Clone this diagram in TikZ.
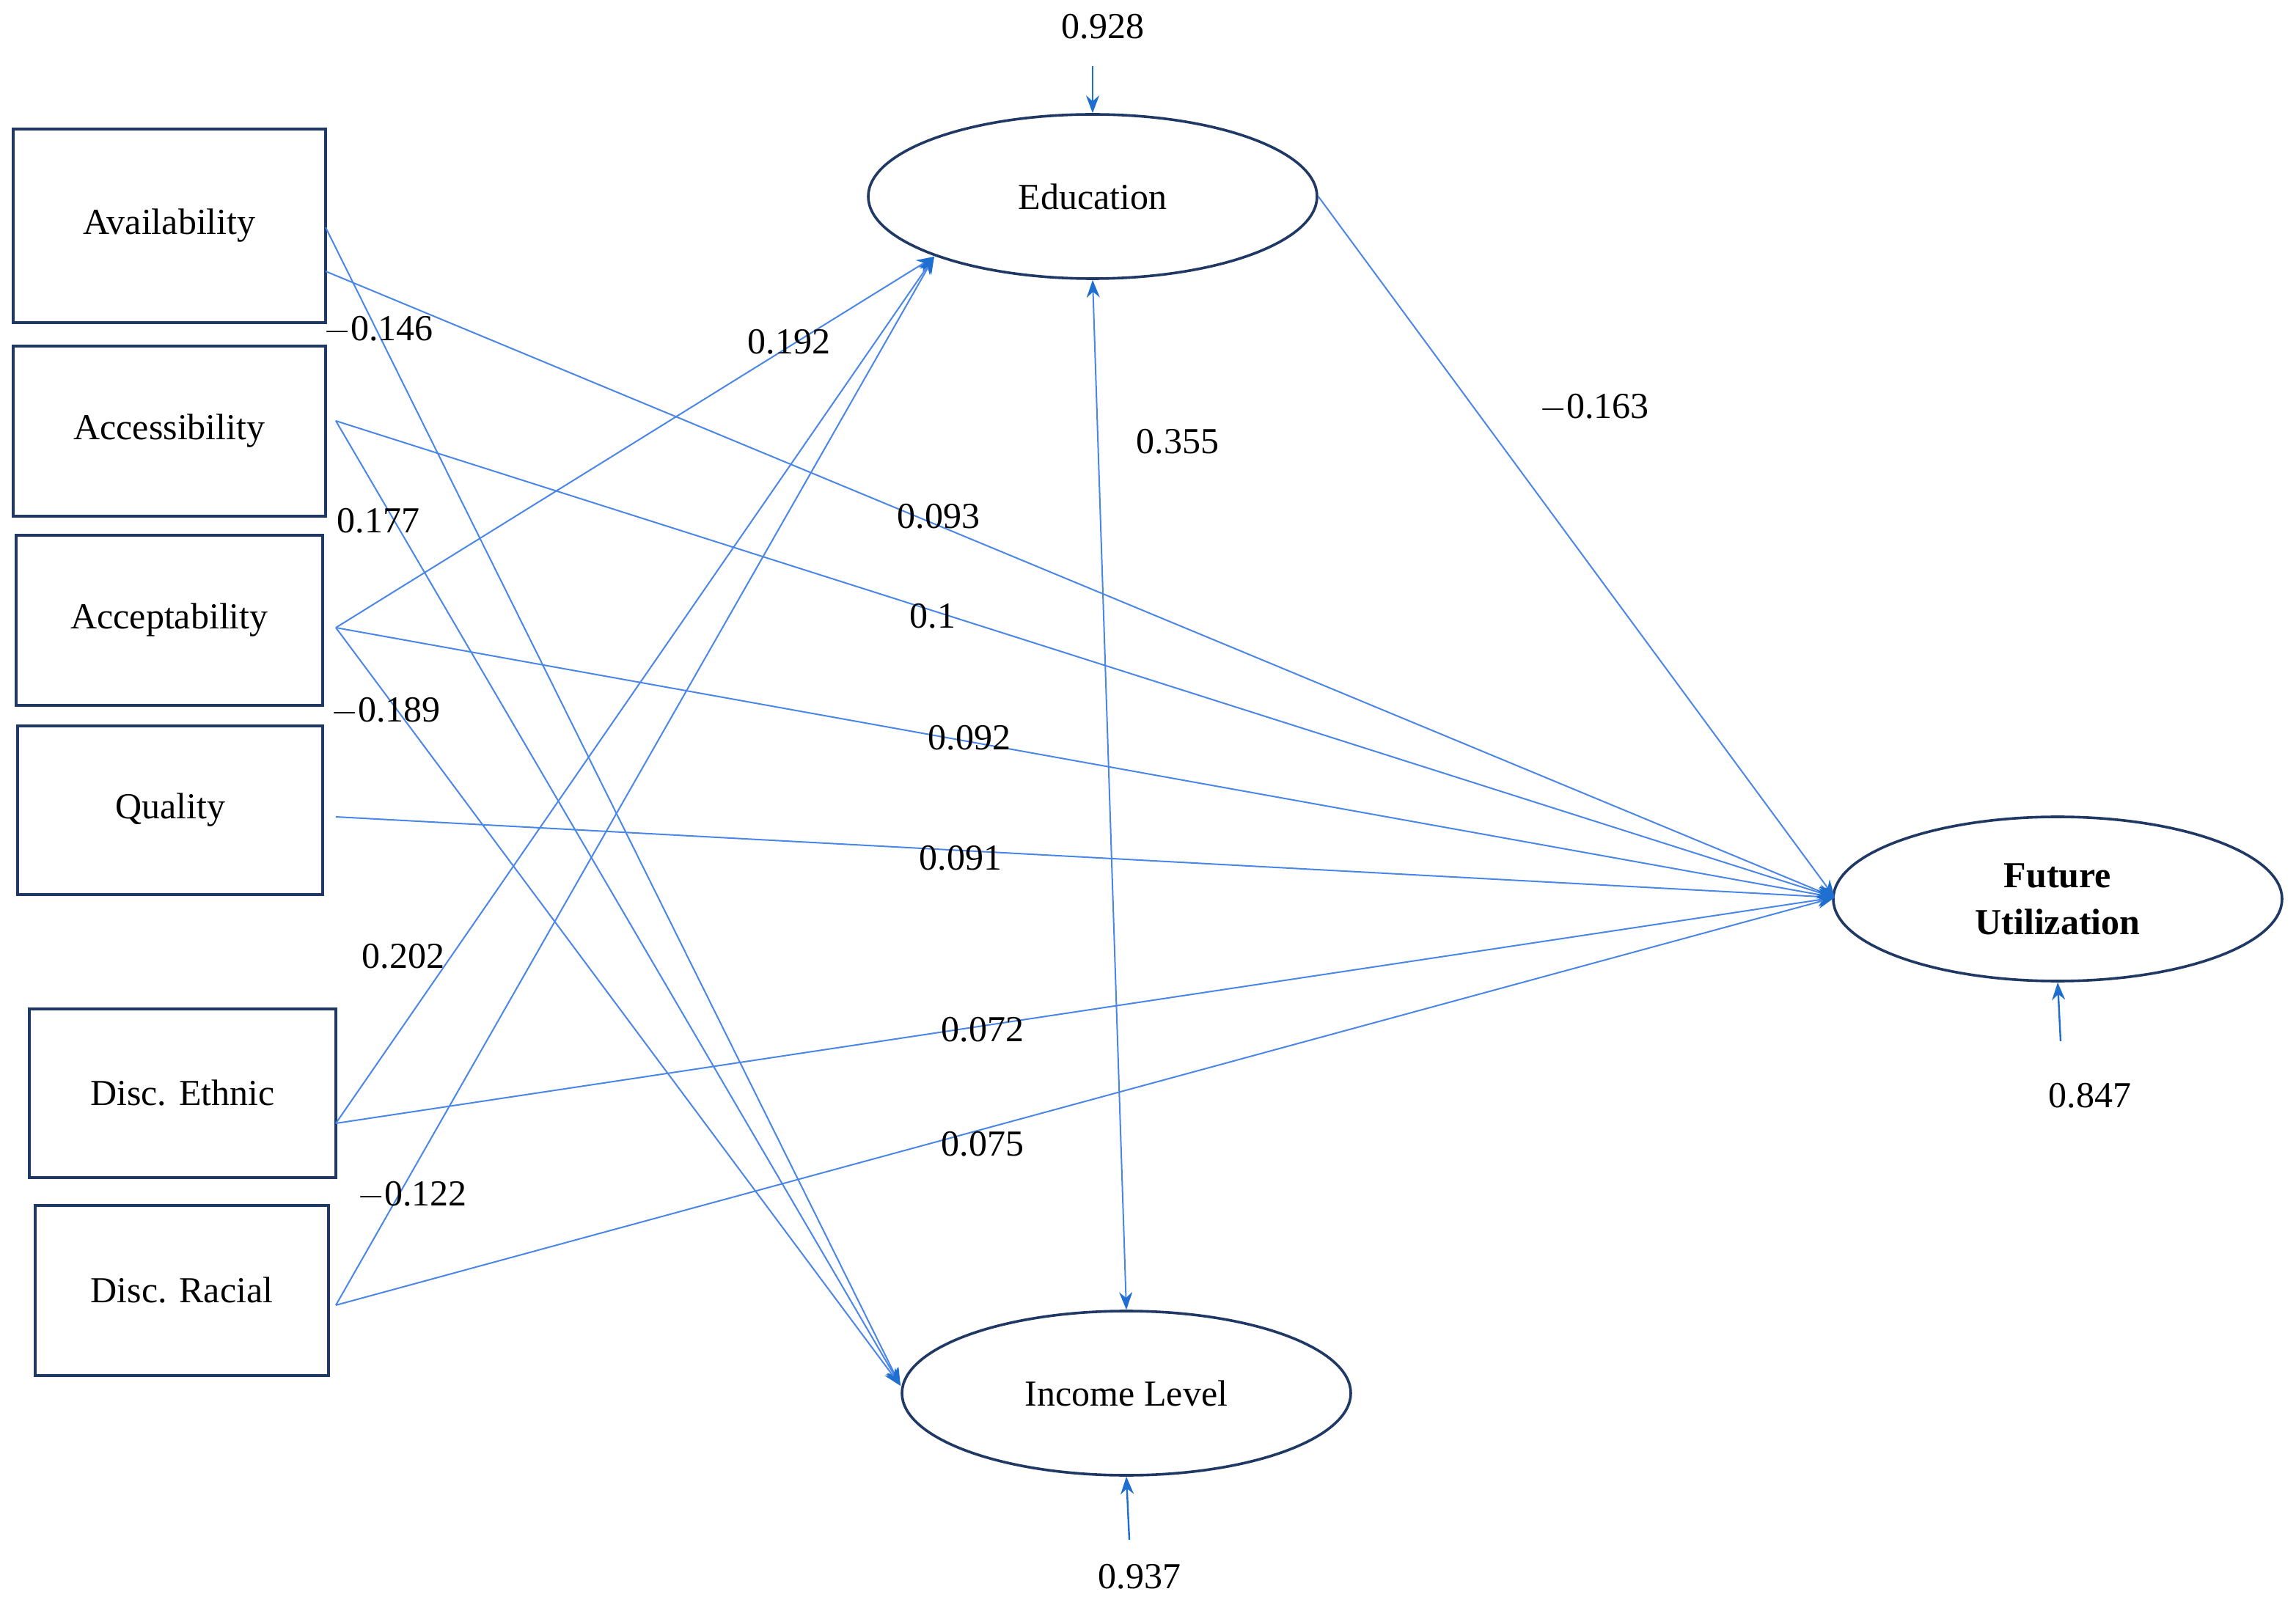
\documentclass[tikz,border=0pt]{standalone}
\usepackage{fontspec}
\setmainfont{Liberation Serif}
\usetikzlibrary{shapes.geometric,arrows.meta}
\definecolor{navy}{HTML}{1F3864}
\definecolor{lblue}{HTML}{4A86E8}
\definecolor{dblue}{HTML}{1F6FD0}
\begin{document}
\begin{tikzpicture}[x=0.5pt,y=-0.5pt,font=\fontsize{12.5}{14}\selectfont,
 box/.style={draw=navy,line width=0.8pt,rectangle,inner sep=0},
 ell/.style={draw=navy,line width=0.9pt,ellipse,inner sep=0,minimum width=153pt,minimum height=56pt,align=center},
 path/.style={draw=lblue,line width=0.5pt,-{Stealth[length=6pt,width=4.5pt,color=dblue]}},
 res/.style={draw=dblue,line width=0.6pt,-{Stealth[length=6pt,width=4.5pt]}},
 lab/.style={inner sep=1pt}]
\useasboundingbox (0,0) rectangle (1565.5,1096.5);
\node[box,minimum width=106.5pt,minimum height=66pt] (av) at (115.5,154) {Availability};
\node[box,minimum width=106.5pt,minimum height=58pt] (ac) at (115.5,294) {Accessibility};
\node[box,minimum width=104.5pt,minimum height=58pt] (ap) at (115.5,423) {Acceptability};
\node[box,minimum width=104pt,minimum height=57.5pt] (qu) at (116,552.5) {Quality};
\node[box,minimum width=104.5pt,minimum height=57.5pt] (de) at (124.5,745.5) {Disc. Ethnic};
\node[box,minimum width=100pt,minimum height=58pt] (dr) at (124,880) {Disc. Racial};
\node[ell] (ed) at (745,134) {Education};
\node[ell] (in) at (768,950) {Income Level};
\node[ell,font=\fontsize{12.5}{16}\selectfont\bfseries] (fu) at (1403,613) {Future\\Utilization};
\coordinate (avA) at (222,155); \coordinate (avB) at (222,185);
\coordinate (acA) at (229,287); \coordinate (apA) at (229,428);
\coordinate (quA) at (229,557); \coordinate (deA) at (229,766); \coordinate (drA) at (229,890);
\coordinate (edIn) at (637,175); \coordinate (inIn) at (614,945); \coordinate (fuIn) at (1251,612);
\draw[path] (avA) -- (inIn);
\draw[path] (avB) -- (fuIn);
\draw[path] (acA) -- (inIn);
\draw[path] (acA) -- (fuIn);
\draw[path] (apA) -- (edIn);
\draw[path] (apA) -- (inIn);
\draw[path] (apA) -- (fuIn);
\draw[path] (quA) -- (fuIn);
\draw[path] (deA) -- (edIn);
\draw[path] (deA) -- (fuIn);
\draw[path] (drA) -- (edIn);
\draw[path] (drA) -- (fuIn);
\draw[path] (ed.east) -- (fuIn);
\draw[path,{Stealth[length=6pt,width=4.5pt,color=dblue]}-{Stealth[length=6pt,width=4.5pt,color=dblue]}] (ed.south) -- (in.north);
\node[lab] (e1) at (752,18) {0.928};
\node[lab] (e2) at (777,1075) {0.937};
\node[lab] (e3) at (1425,747) {0.847};
\coordinate (e1s) at (745,45); \coordinate (e2s) at (770,1050); \coordinate (e3s) at (1405,710);
\draw[res] (e1s) -- (ed.north);
\draw[res] (e2s) -- (in.south);
\draw[res] (e3s) -- (fu.south);
\node[lab] at (258,225) {$-$0.146};
\node[lab] at (538,233) {0.192};
\node[lab] at (258,355) {0.177};
\node[lab] at (263,485) {$-$0.189};
\node[lab] at (275,652) {0.202};
\node[lab] at (281,815) {$-$0.122};
\node[lab] at (803,301) {0.355};
\node[lab] at (1087,278) {$-$0.163};
\node[lab] at (640,352) {0.093};
\node[lab] at (636,420) {0.1};
\node[lab] at (661,503) {0.092};
\node[lab] at (655,585) {0.091};
\node[lab] at (670,702) {0.072};
\node[lab] at (670,780) {0.075};
\end{tikzpicture}
\end{document}
